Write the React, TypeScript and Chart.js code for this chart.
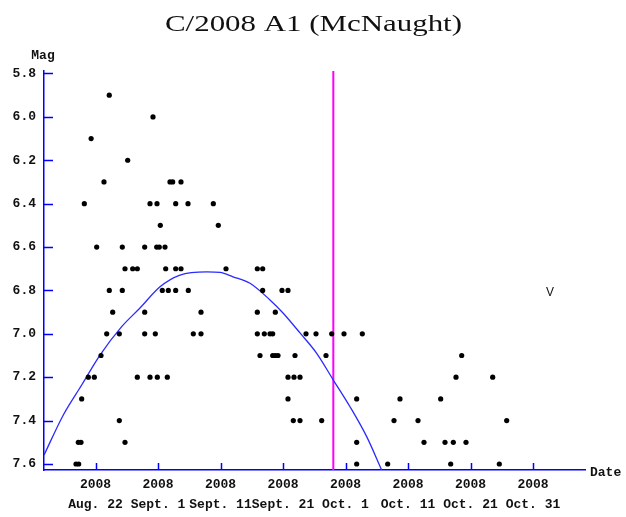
import { useEffect, useRef } from "react";
import { Chart, registerables } from "chart.js";

Chart.register(...registerables);

// ---- data ----
const chartTitle = "C/2008 A1 (McNaught)";
const yAxisTitle = "Mag";
const xAxisTitle = "Date";
const legendText = "V";

// x values are days counted from 2008 Aug. 22
const tickDays = [0, 10, 20, 30, 40, 50, 60, 70];
const tickYears = ["2008", "2008", "2008", "2008", "2008", "2008", "2008", "2008"];
const tickDates = ["Aug. 22", "Sept. 1", "Sept. 11", "Sept. 21", "Oct. 1", "Oct. 11", "Oct. 21", "Oct. 31"];
const magTicks = [5.8, 6.0, 6.2, 6.4, 6.6, 6.8, 7.0, 7.2, 7.4, 7.6];

const dayMin = -8.24;
const dayMax = 78.32;
const magMin = 5.7885;
const magMax = 7.6277;

const obsDays = [
  2.2,
  9.2,
  -0.7,
  5.15,
  1.36, 11.92, 12.35, 13.68,
  -1.79, 8.72, 9.84, 12.83, 14.8, 18.85,
  10.37, 19.65,
  0.19, 4.29, 7.87, 9.79, 10.21, 11.12,
  4.72, 5.95, 6.69, 11.23, 12.83, 13.68, 20.88, 25.89, 26.75,
  2.21, 4.29, 10.69, 11.65, 12.83, 14.85, 26.75, 29.84, 30.8,
  2.75, 7.87, 16.88, 25.89, 28.77,
  1.79, 3.81, 7.87, 9.57, 15.65, 16.88, 25.89, 27.01, 27.92, 28.35, 33.68, 35.28, 37.79, 39.76, 42.69,
  0.88, 26.32, 28.35, 28.77, 29.2, 31.92, 36.88, 58.59,
  -1.15, -0.19, 6.69, 8.72, 9.89, 11.49, 30.8, 31.76, 32.72, 57.68, 63.55,
  -2.21, 30.8, 41.79, 48.72, 55.23,
  3.81, 31.65, 32.72, 36.19, 47.76, 51.6, 65.79,
  -2.75, -2.32, 4.72, 41.79, 52.56, 55.92, 57.25, 59.28,
  -3.12, -2.69, 41.79, 46.75, 56.83, 64.61,
];
const obsMags = [
  5.9,
  6.0,
  6.1,
  6.2,
  6.3, 6.3, 6.3, 6.3,
  6.4, 6.4, 6.4, 6.4, 6.4, 6.4,
  6.5, 6.5,
  6.6, 6.6, 6.6, 6.6, 6.6, 6.6,
  6.7, 6.7, 6.7, 6.7, 6.7, 6.7, 6.7, 6.7, 6.7,
  6.8, 6.8, 6.8, 6.8, 6.8, 6.8, 6.8, 6.8, 6.8,
  6.9, 6.9, 6.9, 6.9, 6.9,
  7.0, 7.0, 7.0, 7.0, 7.0, 7.0, 7.0, 7.0, 7.0, 7.0, 7.0, 7.0, 7.0, 7.0, 7.0,
  7.1, 7.1, 7.1, 7.1, 7.1, 7.1, 7.1, 7.1,
  7.2, 7.2, 7.2, 7.2, 7.2, 7.2, 7.2, 7.2, 7.2, 7.2, 7.2,
  7.3, 7.3, 7.3, 7.3, 7.3,
  7.4, 7.4, 7.4, 7.4, 7.4, 7.4, 7.4,
  7.5, 7.5, 7.5, 7.5, 7.5, 7.5, 7.5, 7.5,
  7.6, 7.6, 7.6, 7.6, 7.6, 7.6,
];

const curveDays = [-8.24, -5.15, -2.21, 0.72, 4.19, 7.12, 10.32, 13.52, 17.79, 19.92, 22.0, 24.72, 27.92, 30.0, 32.72, 35.39, 38.05, 40.72, 43.39, 45.79];
const curveMags = [7.559, 7.374, 7.236, 7.098, 6.967, 6.881, 6.783, 6.729, 6.714, 6.717, 6.737, 6.767, 6.844, 6.904, 6.996, 7.09, 7.213, 7.336, 7.474, 7.628];

const markerDay = 38.05;

const MONO = "'Liberation Mono', 'DejaVu Sans Mono', monospace";

const decorPlugin = {
  id: "decor",
  afterDraw(chart: any) {
    const { ctx, chartArea, scales } = chart;
    const xs = scales.x;
    const ys = scales.y;
    ctx.save();
    // inward tick marks
    ctx.strokeStyle = "#0000ff";
    ctx.lineWidth = 1.5;
    ctx.beginPath();
    ys.ticks.forEach((t: any) => {
      const py = Math.round(ys.getPixelForValue(t.value)) + 0.5;
      ctx.moveTo(chartArea.left, py);
      ctx.lineTo(chartArea.left + 9, py);
    });
    xs.ticks.forEach((t: any) => {
      const px = Math.round(xs.getPixelForValue(t.value)) + 0.5;
      ctx.moveTo(px, chartArea.bottom);
      ctx.lineTo(px, chartArea.bottom - 7);
    });
    ctx.stroke();

    // title (horizontally stretched serif)
    ctx.fillStyle = "#111";
    ctx.font = "23px 'Liberation Serif', 'DejaVu Serif', serif";
    ctx.textBaseline = "alphabetic";
    ctx.textAlign = "left";
    const w = ctx.measureText(chartTitle).width;
    const sx = 297 / w;
    ctx.save();
    ctx.translate(165, 31);
    ctx.scale(sx, 1);
    ctx.fillText(chartTitle, 0, 0);
    ctx.restore();

    // axis titles
    ctx.font = "bold 13px " + MONO;
    ctx.textAlign = "center";
    ctx.fillText(yAxisTitle, 43, 59);
    ctx.textAlign = "left";
    ctx.fillText(xAxisTitle, chartArea.right + 5, 476);

    // V label
    ctx.font = "12px 'Liberation Sans', 'DejaVu Sans', sans-serif";
    ctx.textAlign = "center";
    ctx.fillText(legendText, 550, 296);
    ctx.restore();
  },
};

export default function App() {
  const ref = useRef<HTMLCanvasElement | null>(null);

  useEffect(() => {
    document.body.style.margin = "0";
    const canvas = ref.current;
    if (!canvas) return;

    const chart = new Chart(canvas, {
      type: "scatter",
      data: {
        datasets: [
          {
            type: "scatter",
            label: "obs",
            data: obsDays.map((d, i) => ({ x: d, y: obsMags[i] })),
            pointRadius: 2.6,
            pointBackgroundColor: "#000",
            pointBorderWidth: 0,
            pointBorderColor: "#000",
          },
          {
            type: "line",
            label: "curve",
            data: curveDays.map((d, i) => ({ x: d, y: curveMags[i] })),
            borderColor: "#2a2aff",
            borderWidth: 1.3,
            pointRadius: 0,
            cubicInterpolationMode: "monotone",
            fill: false,
          },
          {
            type: "line",
            label: "marker",
            data: [
              { x: markerDay, y: magMin },
              { x: markerDay, y: magMax },
            ],
            borderColor: "#ff00ff",
            borderWidth: 2,
            pointRadius: 0,
            fill: false,
          },
        ],
      } as any,
      options: {
        animation: false,
        responsive: false,
        events: [],
        layout: { padding: { top: 71, right: 41, left: 0, bottom: 0 } },
        plugins: {
          legend: { display: false },
          title: { display: false },
          tooltip: { enabled: false },
        },
        scales: {
          x: {
            type: "linear",
            min: dayMin,
            max: dayMax,
            grid: { display: false, drawTicks: false },
            border: { display: true, color: "#0000ff", width: 1.5 },
            afterBuildTicks: (s: any) => {
              s.ticks = tickDays.map((v) => ({ value: v }));
            },
            afterFit: (s: any) => {
              s.height = 47;
            },
            ticks: {
              autoSkip: false,
              maxRotation: 0,
              minRotation: 0,
              padding: 5,
              color: "#111",
              font: { family: MONO, size: 13, weight: "bold", lineHeight: 1.5 },
              callback: (v: any) => {
                const i = tickDays.indexOf(Number(v));
                return i >= 0 ? [tickYears[i], tickDates[i]] : "";
              },
            },
          },
          y: {
            type: "linear",
            reverse: true,
            min: magMin,
            max: magMax,
            grid: { display: false, drawTicks: false },
            border: { display: true, color: "#0000ff", width: 1.5 },
            afterBuildTicks: (s: any) => {
              s.ticks = magTicks.map((v) => ({ value: v }));
            },
            afterFit: (s: any) => {
              s.width = 44;
            },
            ticks: {
              padding: 8,
              color: "#111",
              font: { family: MONO, size: 13, weight: "bold" },
              callback: (v: any) => Number(v).toFixed(1),
            },
          },
        },
      } as any,
      plugins: [decorPlugin],
    });

    return () => chart.destroy();
  }, []);

  return <canvas ref={ref} width={626} height={517} style={{ display: "block" }} />;
}
